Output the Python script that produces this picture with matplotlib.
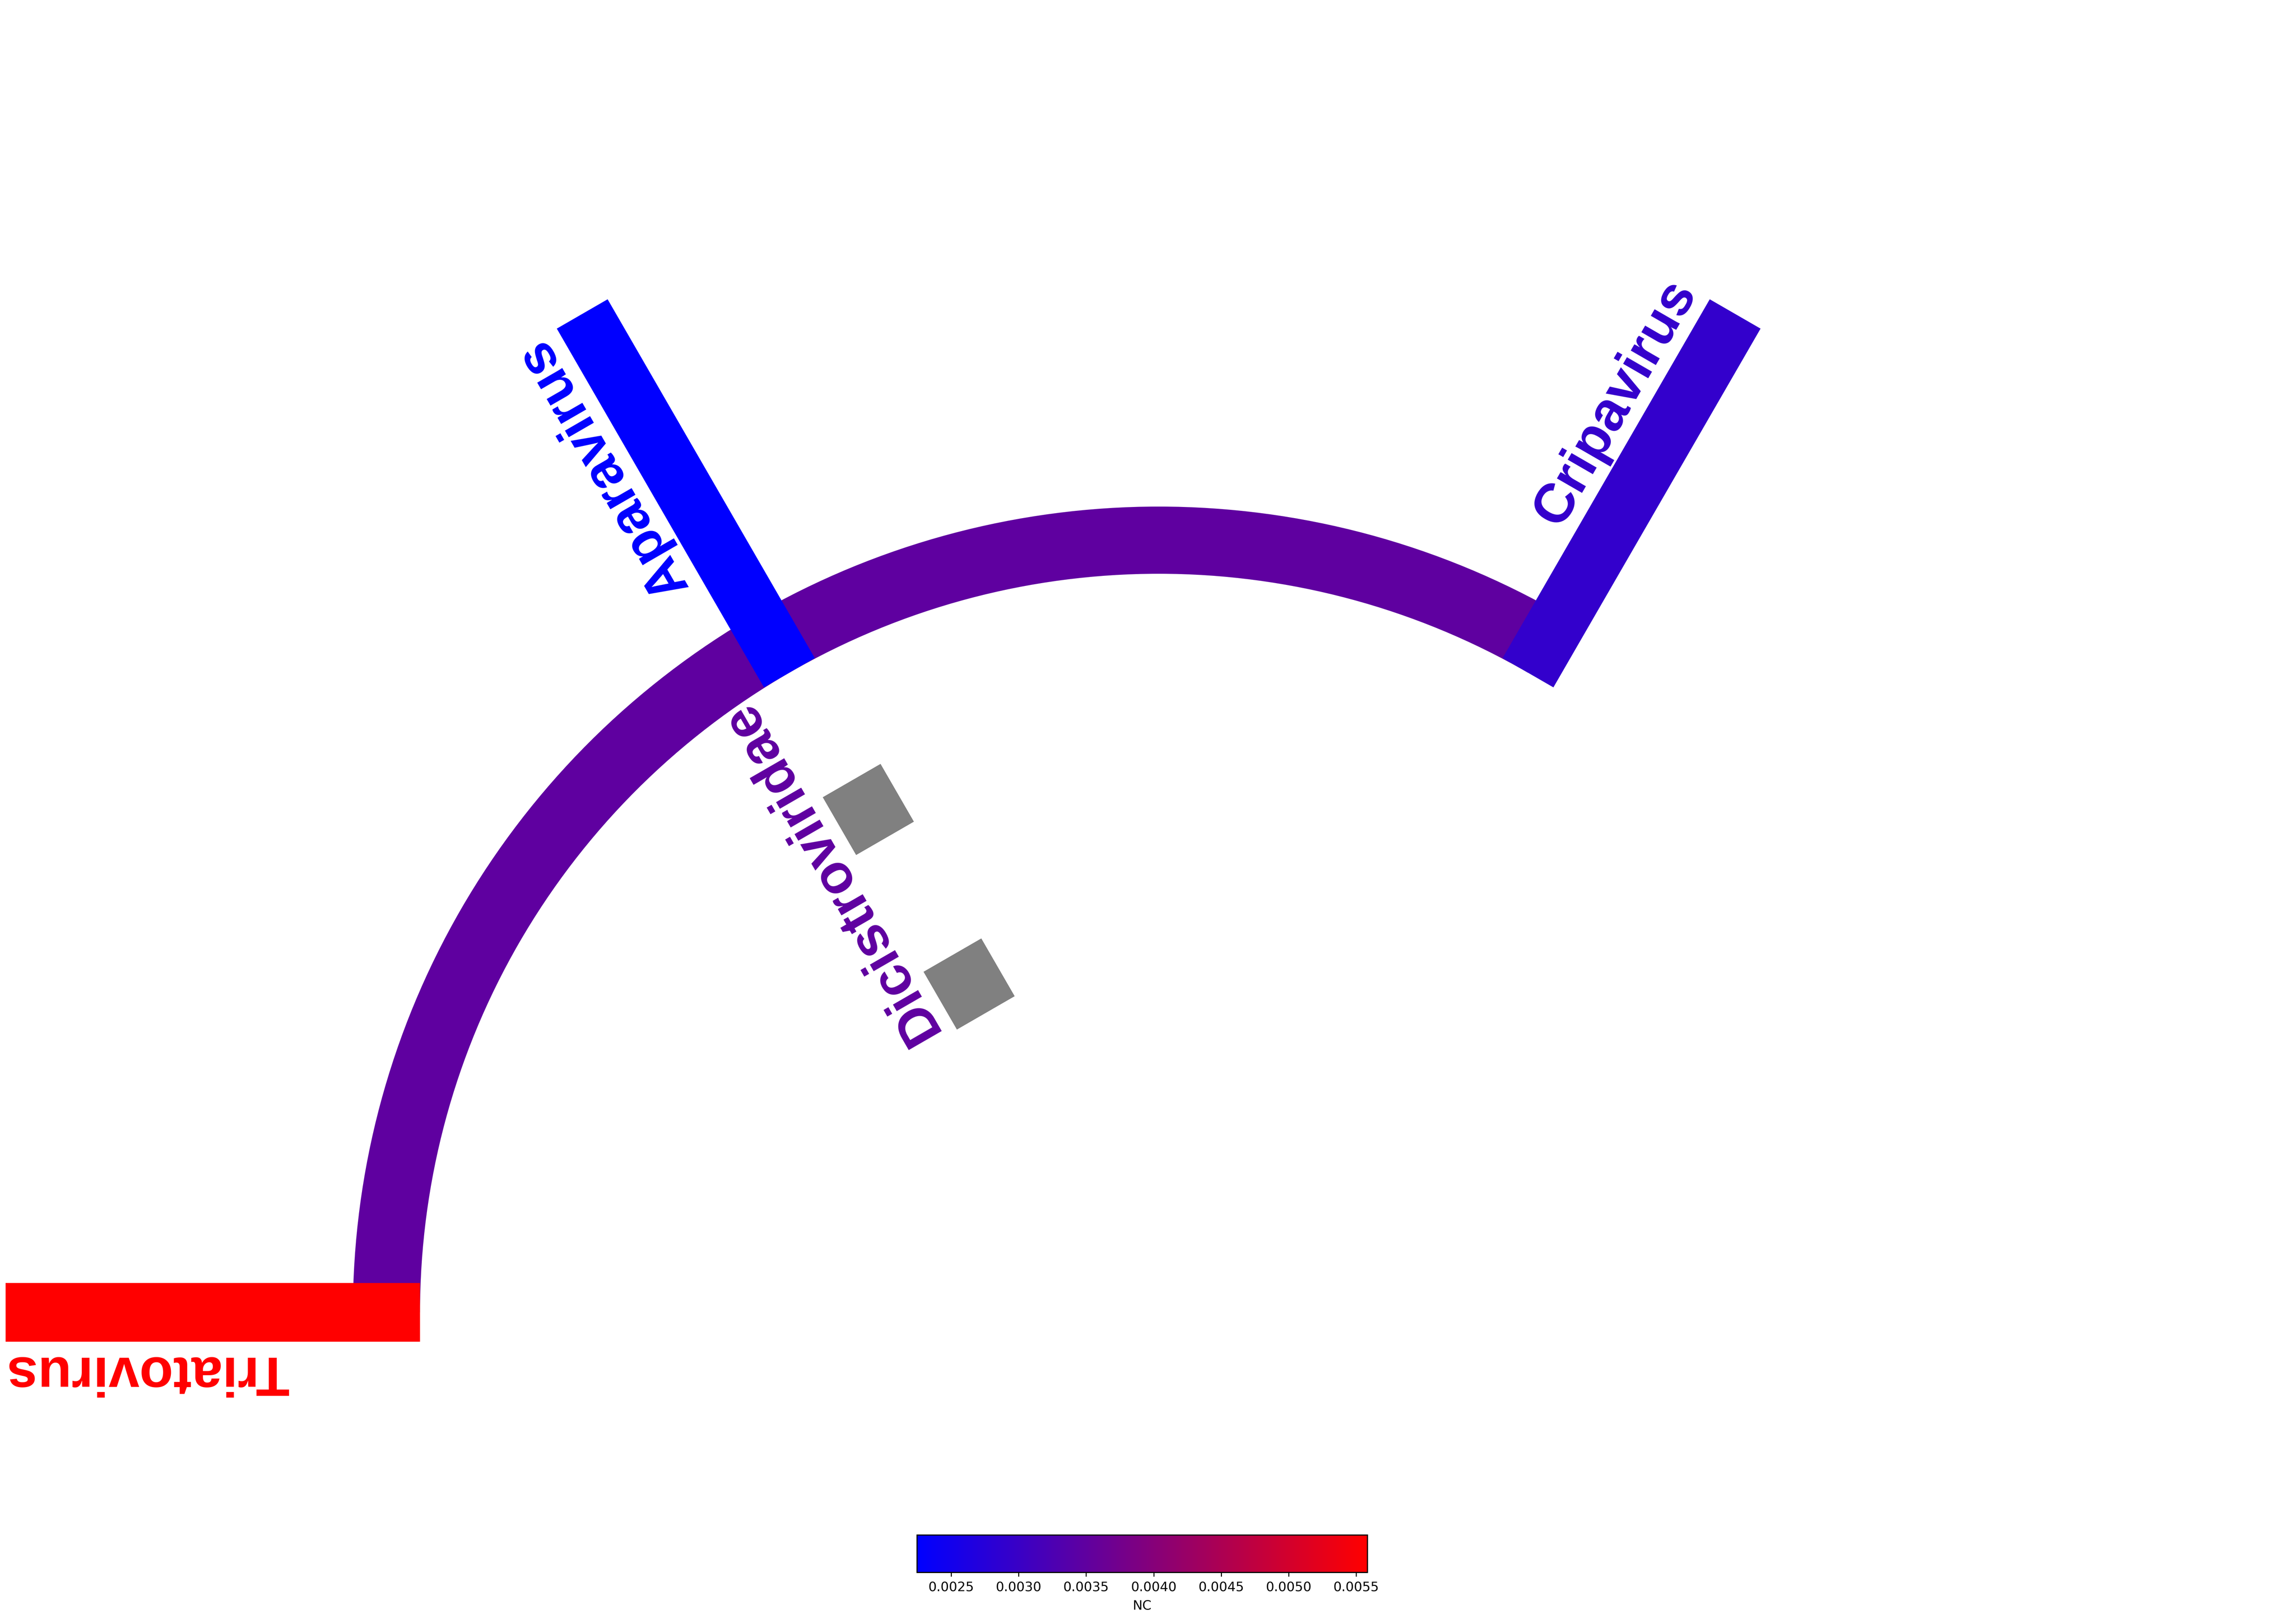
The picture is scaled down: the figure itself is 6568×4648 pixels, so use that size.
import numpy as np
import matplotlib
matplotlib.use('Agg')
import matplotlib.pyplot as plt
from matplotlib.colors import LinearSegmentedColormap, Normalize
from matplotlib.patches import Wedge, Polygon
from matplotlib.cm import ScalarMappable

family = 'Dicistroviridae'
family_nc = 0.00349
genera = ['Cripavirus', 'Aparavirus', 'Triatovirus']
genus_nc = [0.002914, 0.002246, 0.005583]
genus_angle = [60, 120, 180]
# two unnamed members, drawn grey on the Aparavirus branch
unknown_r = [0.752, 0.491]
unknown_angle = [120, 120]

# layout
R_FAM = 1.0
ARC_W = 0.087
R_LEAF = 1.493
BAR_W = 0.076
SQ = 0.0864
LABEL_OFF = 0.058
FAM_LABEL_OFF = 0.0647
FS = 38


def polar(r, a):
    t = np.deg2rad(a)
    return r * np.cos(t), r * np.sin(t)


def strip(r0, r1, a, w):
    # rectangle along the radius at angle a
    t = np.deg2rad(a)
    u = np.array([np.cos(t), np.sin(t)])
    n = np.array([-np.sin(t), np.cos(t)])
    return [r0 * u + n * w / 2, r1 * u + n * w / 2,
            r1 * u - n * w / 2, r0 * u - n * w / 2]


cmap = LinearSegmentedColormap.from_list('nc', ['blue', 'red'])
norm = Normalize(vmin=min(genus_nc), vmax=max(genus_nc))

fig = plt.figure(figsize=(6568 / 300, 4648 / 300), dpi=300)
ax = fig.add_axes([0, 0, 1, 1])
ax.set_xlim(-1.50045, 1.47149)
ax.set_ylim(-0.40362, 1.69955)
ax.axis('off')

# family arc spanning its genera
ax.add_patch(Wedge((0, 0), R_FAM + ARC_W / 2, min(genus_angle), max(genus_angle),
                   width=ARC_W, color=cmap(norm(family_nc)), lw=0, zorder=1))

# genus branches
for name, nc, a in zip(genera, genus_nc, genus_angle):
    col = cmap(norm(nc))
    ax.add_patch(Polygon(strip(R_FAM - ARC_W / 2, R_LEAF, a, BAR_W),
                         closed=True, color=col, lw=0, zorder=2))
    x, y = polar(R_LEAF, a)
    dx, dy = polar(LABEL_OFF, a + 90)
    ax.text(x + dx, y + dy, name, rotation=a, rotation_mode='anchor',
            ha='right', va='baseline', color=col, fontsize=FS,
            fontweight='bold', family='Liberation Sans', zorder=3)

# unnamed members
for r, a in zip(unknown_r, unknown_angle):
    ax.add_patch(Polygon(strip(r - SQ / 2, r + SQ / 2, a, SQ), closed=True,
                         color='gray', lw=0, zorder=2))

# family label
x, y = polar(R_FAM - ARC_W / 2, 120)
dx, dy = polar(FAM_LABEL_OFF, 120 + 90)
ax.text(x + dx, y + dy, family, rotation=120, rotation_mode='anchor',
        ha='right', va='baseline', color=cmap(norm(family_nc)), fontsize=FS,
        fontweight='bold', family='Liberation Sans', zorder=3)

# colour scale
cax = fig.add_axes([0.3995, 0.0318, 0.1963, 0.0230])
sm = ScalarMappable(norm=norm, cmap=cmap)
cb = fig.colorbar(sm, cax=cax, orientation='horizontal')
cb.set_label('NC', fontsize=9)
cax.tick_params(labelsize=9, length=2.8, width=0.7)

fig.savefig('out.png', dpi=300)
